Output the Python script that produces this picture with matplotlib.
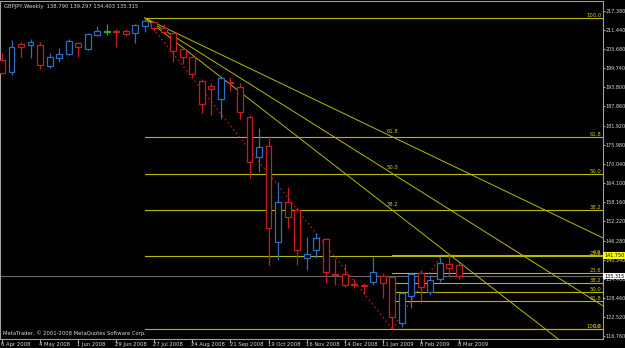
import matplotlib
matplotlib.use("Agg")
import matplotlib.pyplot as plt
from matplotlib.patches import Rectangle
from matplotlib import font_manager, transforms

# ---------------- data ----------------
date_labels = ["6 Apr 2008", "4 May 2008", "1 Jun 2008", "29 Jun 2008", "27 Jul 2008",
               "24 Aug 2008", "21 Sep 2008", "19 Oct 2008", "16 Nov 2008", "14 Dec 2008",
               "11 Jan 2009", "8 Feb 2009", "8 Mar 2009"]
label_every = 4  # weeks between date labels

opens = [202.2, 198.6, 207.2, 206.9, 206.9, 200.4, 202.7, 204.1, 207.6, 205.5,
         209.9, 211.0, 211.1, 211.2, 210.7, 212.7, 214.1, 212.0, 210.5, 205.5,
         203.2, 195.7, 194.1, 190.0, 195.3, 193.8, 184.5, 172.3, 175.6, 145.9,
         158.1, 155.8, 140.8, 143.4, 146.7, 136.1, 135.9, 133.0, 132.5, 133.6,
         135.3, 135.1, 120.7, 129.1, 136.2, 130.3, 134.3, 138.9, 138.790]
highs = [204.3, 208.4, 207.7, 208.7, 207.7, 204.5, 205.8, 208.6, 207.9, 210.5,
         212.7, 213.4, 211.7, 211.8, 213.4, 215.21, 214.3, 213.4, 210.7, 205.8,
         203.4, 196.2, 195.0, 196.7, 197.0, 195.0, 185.2, 181.1, 178.7, 164.5,
         163.0, 156.8, 147.5, 148.6, 147.0, 140.5, 139.0, 134.3, 133.1, 141.3,
         136.2, 135.3, 130.5, 136.4, 137.2, 135.6, 141.1, 141.75, 139.297]
lows = [198.1, 197.6, 203.0, 202.7, 199.3, 199.6, 201.7, 203.8, 203.2, 205.3,
        209.6, 209.9, 206.1, 209.6, 207.4, 211.0, 211.3, 210.5, 201.7, 201.0,
        197.0, 185.7, 185.2, 183.8, 192.6, 184.1, 165.6, 167.4, 138.7, 140.3,
        150.1, 138.7, 137.2, 140.8, 133.1, 132.6, 131.8, 131.5, 129.7, 132.6,
        128.4, 118.93, 119.4, 125.3, 126.9, 129.4, 133.6, 135.3, 134.403]
closes = [198.3, 206.3, 206.3, 207.7, 200.7, 203.0, 204.0, 208.2, 206.1, 210.3,
          211.3, 211.0, 210.8, 210.3, 213.1, 214.3, 212.0, 211.0, 205.1, 203.2,
          197.8, 188.6, 193.1, 196.5, 195.1, 186.2, 170.5, 175.2, 150.1, 158.1,
          153.7, 143.4, 142.3, 147.0, 136.7, 135.8, 132.6, 132.7, 132.3, 136.7,
          133.3, 122.5, 130.0, 135.9, 132.0, 134.1, 139.5, 137.9, 135.315]

price_ticks = [217.380, 211.440, 205.680, 199.740, 193.800, 187.860, 181.920, 175.980,
               170.040, 164.100, 158.160, 152.220, 146.280, 140.340, 134.400, 128.460,
               122.520, 116.760]

title_text = "GBPJPY,Weekly  138.790 139.297 134.403 135.315"
copyright_text = "MetaTrader, \u00a9 2001-2008 MetaQuotes Software Corp."

# Fibonacci retracement 1 (swing high -> swing low)
fib1_start = 15
fib1_high = 215.21
fib1_low = 118.93
fib1_levels = [0.0, 23.6, 38.2, 50.0, 61.8, 100.0]
# Fibonacci retracement 2 (swing low -> 141.75)
fib2_start = 41
fib2_top = 141.75
fib2_levels = [0.0, 23.6, 38.2, 50.0, 61.8, 100.0]
# Fibonacci fan
fan_origin = 15
fan_anchor = 41
fan_levels = [61.8, 50.0, 38.2]
# red dotted trend lines (week index, price)
trend_down = [(15, 215.21), (41, 118.93)]
trend_up = [(41, 118.93), (46, 141.1)]
bid_price = 135.315
hline_price = 141.75

# ---------------- style ----------------
avail = {f.name for f in font_manager.fontManager.ttflist}
FONT = "Liberation Sans Narrow" if "Liberation Sans Narrow" in avail else "DejaVu Sans"
FS = 4.8 if FONT != "DejaVu Sans" else 3.8
FSY = 4.4 if FONT != "DejaVu Sans" else 3.5
plt.rcParams["font.family"] = [FONT, "DejaVu Sans"]

BG = "#000000"
FG = "#d8d8d8"
BORDER = "#a0a0a0"
BULL = "#2f6fbf"
BEAR = "#c81e1e"
DOJI = "#22b022"
FIB = "#b8b800"
FIBTXT = "#c8c800"

W, H = 625, 348
fig = plt.figure(figsize=(W / 100, H / 100), dpi=100, facecolor=BG)
ax = fig.add_axes([0, (H - 339) / H, 603 / W, 338 / H], facecolor=BG)

px_per_week = 9.52
x0 = 1.98
ax.set_xlim(-x0 / px_per_week, (603 - x0) / px_per_week)
ax.set_ylim(115.83, 220.48)

n = len(opens)
xr = ax.get_xlim()[1]

# bid line
ax.axhline(bid_price, color="#6a6a6a", lw=0.8, zorder=1)

rt = transforms.blended_transform_factory(ax.transAxes, ax.transData)

# Fibonacci retracement 1
rng1 = fib1_high - fib1_low
for lv in fib1_levels:
    p = fib1_low + lv / 100.0 * rng1
    ax.plot([fib1_start, xr], [p, p], color=FIB, lw=0.8, zorder=1.5)
    ax.text(0.997, p, f"{lv:.1f}", transform=rt,
            ha="right", va="bottom", color=FIBTXT, fontsize=FS, zorder=4)

# Fibonacci retracement 2
rng2 = fib2_top - fib1_low
for lv in fib2_levels:
    p = fib2_top - lv / 100.0 * rng2
    ax.plot([fib2_start, xr], [p, p], color=FIB, lw=0.8, zorder=1.5)
    ax.text(0.997, p, f"{lv:.1f}", transform=rt,
            ha="right", va="bottom", color=FIBTXT, fontsize=FS, zorder=4)

# Fibonacci fan
for lv in fan_levels:
    p_anchor = fib1_low + lv / 100.0 * rng1
    slope = (p_anchor - fib1_high) / (fan_anchor - fan_origin)
    ax.plot([fan_origin, xr], [fib1_high, fib1_high + slope * (xr - fan_origin)],
            color=FIB, lw=0.7, zorder=1.5)
    ax.text(fan_anchor, p_anchor + 1.0, f"{lv:.1f}", ha="center", va="bottom",
            color=FIBTXT, fontsize=FS, zorder=4)

# red dotted trend lines
for seg in (trend_down, trend_up):
    xs = [s[0] for s in seg]
    ys = [s[1] for s in seg]
    ax.plot(xs, ys, color=BEAR, lw=0.8, ls=(0, (1.5, 2.5)), zorder=2)

# candles
bw = 0.62
for i in range(n):
    o, h, l, c = opens[i], highs[i], lows[i], closes[i]
    if c > o:
        col = BULL
    elif c < o:
        col = BEAR
    else:
        col = DOJI
    ax.plot([i, i], [l, h], color=col, lw=0.9, zorder=3, solid_capstyle="butt")
    lo, hi = min(o, c), max(o, c)
    ax.add_patch(Rectangle((i - bw / 2, lo), bw, max(hi - lo, 0.05),
                           facecolor=BG, edgecolor=col, lw=0.9, zorder=3.2))

# spines
for s in ax.spines.values():
    s.set_color(BORDER)
    s.set_linewidth(0.8)

# right price axis
ax.yaxis.tick_right()
ax.set_yticks(price_ticks)
ax.set_yticklabels([f"{t:.3f}" for t in price_ticks])
ax.tick_params(axis="y", colors=BORDER, labelcolor=FG, labelsize=FSY, length=1.5, width=0.8, pad=0.3)

# x axis: ticks & date labels
xt = [k * label_every for k in range(len(date_labels))]
ax.set_xticks(xt)
ax.set_xticklabels([])
ax.tick_params(axis="x", colors=BORDER, length=3, width=0.8, direction="out")
bt = transforms.blended_transform_factory(ax.transData, ax.transAxes)
for k, lab in zip(xt, date_labels):
    ax.text(k - 0.1, -0.008, lab, transform=bt, ha="left", va="top",
            color=FG, fontsize=FS, clip_on=False)

# price boxes on axis
ax.text(1.002, hline_price, f"{hline_price:.3f}", transform=rt, ha="left", va="center",
        fontsize=FSY, color="#000000", clip_on=False, zorder=10,
        bbox=dict(boxstyle="square,pad=0.15", fc="#ffff00", ec="none"))
ax.text(1.002, bid_price, f"{bid_price:.3f}", transform=rt, ha="left", va="center",
        fontsize=FSY, color="#000000", clip_on=False, zorder=10,
        bbox=dict(boxstyle="square,pad=0.15", fc="#ffffff", ec="none"))

# texts
ax.text(0.006, 0.985, title_text, transform=ax.transAxes, ha="left", va="center",
        color=FG, fontsize=FS, zorder=6)
ax.text(0.005, 0.018, copyright_text, transform=ax.transAxes, ha="left", va="center",
        color=FG, fontsize=FS, zorder=6)

fig.savefig("out.png", dpi=100, facecolor=BG)
